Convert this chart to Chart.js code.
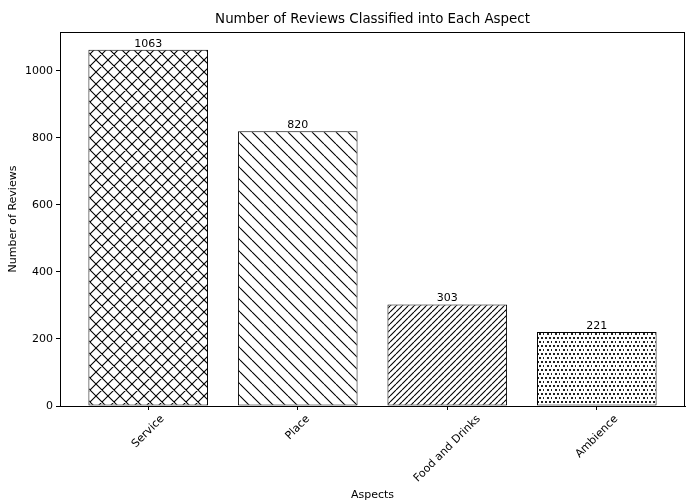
<!DOCTYPE html>
<html>
<head>
<meta charset="utf-8">
<script src="https://cdn.jsdelivr.net/npm/chart.js@4"></script>
<style>
  html, body { margin: 0; padding: 0; background: #fff; }
  #wrap { width: 686px; height: 502px; }
</style>
</head>
<body>
<div id="wrap"><canvas id="aspectChart"></canvas></div>
<script>
const aspects = ['Service', 'Place', 'Food and Drinks', 'Ambience'];
const reviewCounts = [1063, 820, 303, 221];
const hatches = ['x', '\\', '//', '..'];
const yTicks = [0, 200, 400, 600, 800, 1000];

const FONT = "'DejaVu Sans', sans-serif";
const SMALL = 11;

// tiles that mimic matplotlib hatches
function makeHatch(kind) {
    const c = document.createElement('canvas');
    let size = 12;
    if (kind === '//') size = 6;
    if (kind === '..') size = 8;
    c.width = size;
    c.height = size;
    const g = c.getContext('2d');
    g.fillStyle = '#fff';
    g.fillRect(0, 0, size, size);
    g.strokeStyle = '#000';
    g.fillStyle = '#222';
    g.lineWidth = 1.1;
    if (kind === '..') {
        [[1, 1], [5, 1], [3, 5], [7, 5]].forEach(([x, y]) => {
            g.fillRect(x, y, 2, 2);
        });
        return g.createPattern(c, 'repeat');
    }
    const back = kind === 'x' || kind === '\\';
    const fwd = kind === 'x' || kind === '//';
    g.beginPath();
    for (const dx of [-size, 0, size]) {
        if (back) {
            g.moveTo(dx, 0);
            g.lineTo(dx + size, size);
        }
        if (fwd) {
            g.moveTo(dx, size);
            g.lineTo(dx + size, 0);
        }
    }
    g.stroke();
    return g.createPattern(c, 'repeat');
}

const frameAndLabels = {
    id: 'frameAndLabels',
    afterDatasetsDraw(chart) {
        const ctx = chart.ctx;
        const meta = chart.getDatasetMeta(0);
        ctx.save();
        ctx.fillStyle = '#000';
        ctx.font = SMALL + 'px ' + FONT;
        ctx.textAlign = 'center';
        ctx.textBaseline = 'alphabetic';
        meta.data.forEach((bar, i) => {
            ctx.fillText(String(reviewCounts[i]), bar.x, bar.y - 3);
        });
        ctx.restore();
    },
    afterDraw(chart) {
        const ctx = chart.ctx;
        const area = chart.chartArea;
        const xs = chart.scales.x;
        ctx.save();
        ctx.strokeStyle = '#000';
        ctx.lineWidth = 1;
        ctx.strokeRect(Math.round(area.left) + 0.5, Math.round(area.top) + 0.5,
            Math.round(area.right - area.left) - 1, Math.round(area.bottom - area.top));
        // rotated category labels, centred under each tick like matplotlib
        ctx.font = SMALL + 'px ' + FONT;
        ctx.fillStyle = '#000';
        ctx.textAlign = 'center';
        ctx.textBaseline = 'middle';
        const h = 12;
        aspects.forEach((name, i) => {
            const w = ctx.measureText(name).width;
            const box = (w + h) * Math.SQRT1_2;
            const cx = xs.getPixelForValue(i);
            const cy = area.bottom + 7 + box / 2;
            ctx.save();
            ctx.translate(cx, cy);
            ctx.rotate(-Math.PI / 4);
            ctx.fillText(name, 0, 0);
            ctx.restore();
        });
        ctx.fillStyle = '#000';
        ctx.font = '13.4px ' + FONT;
        ctx.textAlign = 'center';
        ctx.textBaseline = 'middle';
        ctx.fillText('Number of Reviews Classified into Each Aspect', (area.left + area.right) / 2, 20);
        ctx.restore();
    }
};

new Chart(document.getElementById('aspectChart').getContext('2d'), {
    type: 'bar',
    data: {
        datasets: [{
            label: 'Number of Reviews',
            data: reviewCounts.map((v, i) => ({ x: i, y: v })),
            backgroundColor: hatches.map(makeHatch),
            borderColor: '#000',
            borderWidth: 1,
            borderSkipped: false,
            barPercentage: 0.8,
            categoryPercentage: 1.0
        }]
    },
    options: {
        responsive: true,
        maintainAspectRatio: false,
        animation: false,
        layout: {
            padding: { top: 32, right: 1, left: 0, bottom: 0 }
        },
        plugins: {
            legend: { display: false },
            tooltip: { enabled: false },
            title: { display: false }
        },
        scales: {
            x: {
                type: 'linear',
                min: -0.59,
                max: 3.59,
                offset: false,
                afterBuildTicks: scale => {
                    scale.ticks = aspects.map((a, i) => ({ value: i }));
                },
                afterFit: scale => { scale.height = 96; },
                ticks: {
                    color: 'rgba(0,0,0,0)',
                    maxRotation: 0,
                    font: { family: FONT, size: SMALL },
                    callback: (v) => aspects[v] || ''
                },
                grid: {
                    display: true,
                    offset: false,
                    drawOnChartArea: false,
                    drawTicks: true,
                    tickLength: 4,
                    color: '#000'
                },
                border: { display: true, color: '#000' },
                title: {
                    display: true,
                    text: 'Aspects',
                    color: '#000',
                    font: { family: FONT, size: SMALL },
                    padding: { top: 0, bottom: 0 }
                }
            },
            y: {
                min: 0,
                max: 1116,
                afterBuildTicks: scale => {
                    scale.ticks = yTicks.map(v => ({ value: v }));
                },
                afterFit: scale => { scale.width = 60; },
                ticks: {
                    color: '#000',
                    padding: 3,
                    includeBounds: false,
                    font: { family: FONT, size: SMALL },
                    callback: v => String(v)
                },
                grid: {
                    display: true,
                    drawOnChartArea: false,
                    drawTicks: true,
                    tickLength: 4,
                    color: '#000'
                },
                border: { display: true, color: '#000' },
                title: {
                    display: true,
                    text: 'Number of Reviews',
                    color: '#000',
                    font: { family: FONT, size: SMALL },
                    padding: { top: 7, bottom: 0 }
                }
            }
        }
    },
    plugins: [frameAndLabels]
});
</script>
</body>
</html>
